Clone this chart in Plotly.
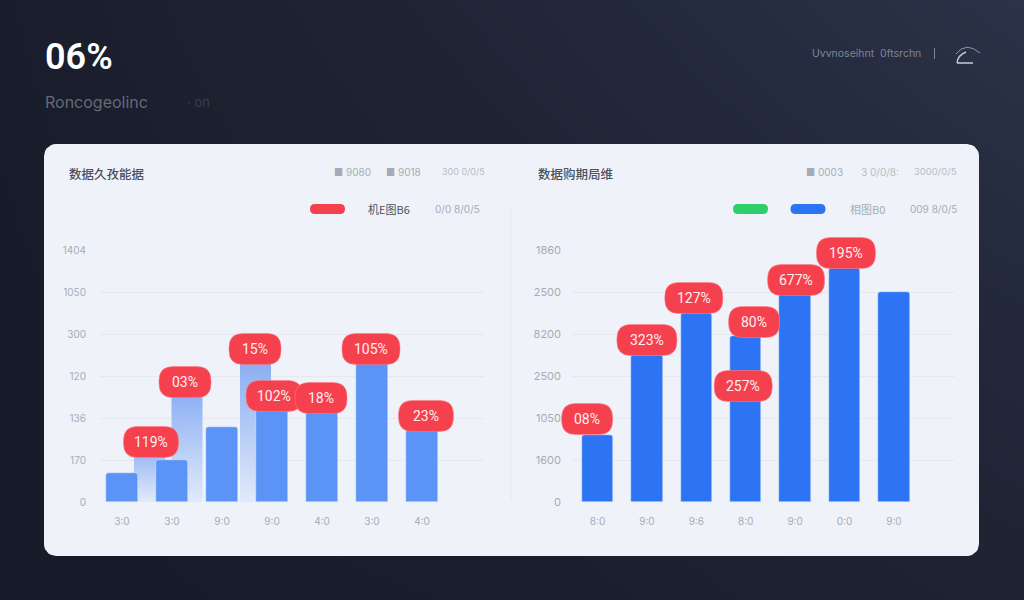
import numpy as np
import plotly.graph_objects as go

# ---------- data ----------
left_pos = [0, 1, 2, 3, 4, 5, 6]
left_values = [138, 200, 357, 438, 428, 667, 343]
left_xlabels = ["3:0", "3:0", "9:0", "9:0", "4:0", "3:0", "4:0"]
left_ticks = [0, 200, 400, 600, 800, 1000, 1200]
left_ticklabels = ["0", "170", "136", "120", "300", "1050", "1404"]
left_pale_pos = [0.55, 1.3, 2.67]
left_pale_values = [300, 557, 700]
left_pill_text = ["119%", "03%", "15%", "102%", "18%", "105%", "23%"]
left_pill_x = [0.58, 1.26, 2.66, 3.04, 3.98, 4.98, 6.08]
left_pill_y = [286, 571, 729, 505, 495, 729, 410]
left_pill_w = [55, 52, 52, 56, 52, 58, 55]

right_pos = [0, 1, 2, 3, 4, 5, 6]
right_values = [798, 1750, 2250, 1976, 2476, 2786, 2500]
right_xlabels = ["8:0", "9:0", "9:6", "8:0", "9:0", "0:0", "9:0"]
right_ticks = [0, 500, 1000, 1500, 2000, 2500, 3000]
right_ticklabels = ["0", "1600", "1050", "2500", "8200", "2500", "1860"]
right_pill_text = ["08%", "323%", "127%", "80%", "257%", "677%", "195%"]
right_pill_x = [-0.21, 1.0, 1.95, 3.17, 2.95, 4.02, 5.03]
right_pill_y = [988, 1929, 2429, 2143, 1381, 2643, 2964]
right_pill_w = [51, 60, 58, 51, 58, 57, 59]

bg_z = [[0.10, 0.50, 1.00], [0.05, 0.30, 0.62], [0.04, 0.12, 0.36]]

INK, GREY = "#4b505c", "#a6abb5"
RED, BLUE_L, BLUE_R = "#f5404e", "#5b94f6", "#2c74f4"
FONT = "Inter"
CJK = "Noto Sans CJK SC"
W, H = 1024, 600


def dx(a, b):
    return [a / W, b / W]


def dy(top, bottom):
    return [1 - bottom / H, 1 - top / H]


def rng(px0, px1, origin_px, px_per_unit):
    return [(px0 - origin_px) / px_per_unit, (px1 - origin_px) / px_per_unit]


fig = go.Figure()

# background + card in pixel-like axis
fig.add_trace(go.Heatmap(x=[0, 512, 1024], y=[0, 300, 600], z=bg_z, zmin=0, zmax=1, zsmooth="best",
                         colorscale=[[0, "#171a28"], [1, "#2b3348"]], showscale=False, hoverinfo="skip"))
cx0, cx1, cy0, cy1, r = 44, 979, 144, 556, 12
t = np.linspace(0, np.pi / 2, 8)
card_x = np.concatenate([cx1 - r + r * np.sin(t), cx1 - r + r * np.cos(t), cx0 + r - r * np.sin(t), cx0 + r - r * np.cos(t)])
card_y = np.concatenate([cy0 + r - r * np.cos(t), cy1 - r + r * np.sin(t), cy1 - r + r * np.cos(t), cy0 + r - r * np.sin(t)])
fig.add_trace(go.Scatter(x=card_x, y=card_y, mode="lines", line=dict(width=0), fill="toself",
                         fillcolor="#eff3f9", hoverinfo="skip", showlegend=False))

# left pale gradient bars
pale_w = 0.31
for p, v in zip(left_pale_pos, left_pale_values):
    fig.add_trace(go.Scatter(x=[p - pale_w, p - pale_w, p + pale_w, p + pale_w, p - pale_w], y=[0, v, v, 0, 0],
                             xaxis="x2", yaxis="y2", mode="lines", line=dict(width=0), fill="toself",
                             fillgradient=dict(type="vertical", colorscale=[[0, "#e2eafa"], [1, "#86abf3"]]),
                             hoverinfo="skip", showlegend=False))
# make grid subplot of right exist
fig.add_trace(go.Scatter(x=[0], y=[0], xaxis="x4", yaxis="y4", mode="markers", marker=dict(opacity=0),
                         hoverinfo="skip", showlegend=False))

fig.add_trace(go.Bar(x=left_pos, y=left_values, width=0.64, marker=dict(color=BLUE_L, cornerradius=3),
                     xaxis="x3", yaxis="y3", hoverinfo="skip", showlegend=False))
fig.add_trace(go.Bar(x=right_pos, y=right_values, width=0.634, marker=dict(color=BLUE_R, cornerradius=3),
                     xaxis="x5", yaxis="y5", hoverinfo="skip", showlegend=False))

L_ORG, L_STEP, R_ORG, R_STEP = 122, 50, 597.5, 49.4
GRID_T, GRID_B = 250, 502
L_S, R_S = (GRID_B - GRID_T) / 1200, (GRID_B - GRID_T) / 3000
MT, MB = 225, 512
ML0, ML1, MR0, MR1 = 60, 505, 540, 965

base = dict(showline=False, zeroline=False, showgrid=False, showticklabels=False, ticks="", fixedrange=True)
tickfont_l = dict(family=FONT, size=10, color=GREY)
tickfont_r = dict(family=FONT, size=11, color=GREY)
grid = dict(showgrid=True, gridcolor="#e5e8ef", gridwidth=1, showticklabels=True, tickmode="array")

fig.update_layout(
    width=W, height=H, margin=dict(l=0, r=0, t=0, b=0, autoexpand=False), paper_bgcolor="#1b1e2c",
    plot_bgcolor="rgba(0,0,0,0)",
    showlegend=False, bargap=0,
    xaxis=dict(base, domain=[0, 1], range=[0, W]),
    yaxis=dict(base, domain=[0, 1], range=[H, 0]),
    xaxis2=dict(base, domain=dx(100, 484), anchor="y2", range=rng(100, 484, L_ORG, L_STEP),
                showticklabels=True, tickmode="array", tickvals=left_pos, ticktext=left_xlabels,
                tickfont=tickfont_l, ticklabelstandoff=12),
    yaxis2=dict(base, **grid, domain=dy(GRID_T, GRID_B), anchor="x2", range=[0, 1200],
                tickvals=left_ticks, ticktext=left_ticklabels, tickfont=tickfont_l, ticklabelstandoff=13),
    xaxis3=dict(base, domain=dx(ML0, ML1), anchor="y3", range=rng(ML0, ML1, L_ORG, L_STEP)),
    yaxis3=dict(base, domain=dy(MT, MB), anchor="x3", range=[(GRID_B - MB) / L_S, (GRID_B - MT) / L_S]),
    xaxis4=dict(base, domain=dx(572, 955), anchor="y4", range=rng(572, 955, R_ORG, R_STEP),
                showticklabels=True, tickmode="array", tickvals=right_pos, ticktext=right_xlabels,
                tickfont=tickfont_l, ticklabelstandoff=12),
    yaxis4=dict(base, **grid, domain=dy(GRID_T, GRID_B), anchor="x4", range=[0, 3000],
                tickvals=right_ticks, ticktext=right_ticklabels, tickfont=tickfont_r, ticklabelstandoff=10),
    xaxis5=dict(base, domain=dx(MR0, MR1), anchor="y5", range=rng(MR0, MR1, R_ORG, R_STEP)),
    yaxis5=dict(base, domain=dy(MT, MB), anchor="x5", range=[(GRID_B - MB) / R_S, (GRID_B - MT) / R_S]),
)


def pill_path(w, h, rad):
    a, b = w / 2, h / 2
    return (f"M {-a + rad} {-b} L {a - rad} {-b} Q {a} {-b} {a} {-b + rad} L {a} {b - rad} Q {a} {b} {a - rad} {b} "
            f"L {-a + rad} {b} Q {-a} {b} {-a} {b - rad} L {-a} {-b + rad} Q {-a} {-b} {-a + rad} {-b} Z")


shapes, ann = [], []


def pill(xa, ya, xref, yref, w, h, rad, color, line=None):
    shapes.append(dict(type="path", xref=xref, yref=yref, xsizemode="pixel", ysizemode="pixel", xanchor=xa, yanchor=ya,
                       path=pill_path(w, h, rad), fillcolor=color, layer="above",
                       line=dict(width=1 if line else 0, color=line or color)))


def label(x, y, text, size, color, anchor="left", family=FONT, weight=None):
    ann.append(dict(xref="paper", yref="paper", x=x / W, y=1 - y / H, text=text, showarrow=False, xanchor=anchor,
                    yanchor="middle", borderpad=0,
                    font=dict(family=family, size=size, color=color, weight=weight)))


for xs, ys, ws, txt, xr, yr in [(left_pill_x, left_pill_y, left_pill_w, left_pill_text, "x3", "y3"),
                                (right_pill_x, right_pill_y, right_pill_w, right_pill_text, "x5", "y5")]:
    for x, y, w, s in zip(xs, ys, ws, txt):
        pill(x, y, xr, yr, w, 31, 14, RED, "rgba(255,125,135,0.55)")
        ann.append(dict(xref=xr, yref=yr, x=x, y=y, text=s, showarrow=False,
                        font=dict(family="Roboto", size=14, color="#fdf0f1")))

# legends
pill(327.5 / W, 1 - 209 / H, "paper", "paper", 35, 10, 5, "#f5404e")
pill(750.5 / W, 1 - 209 / H, "paper", "paper", 35, 10, 5, "#2fce6a")
pill(808 / W, 1 - 209 / H, "paper", "paper", 35, 10, 5, "#2c74f4")

# divider
shapes.append(dict(type="line", xref="paper", yref="paper", x0=511 / W, x1=511 / W, y0=1 - 205 / H, y1=1 - 500 / H,
                   line=dict(color="#e6e9f0", width=1), layer="above"))

# separator + gauge icon in the header
shapes.append(dict(type="line", xref="paper", yref="paper", x0=934.5 / W, x1=934.5 / W, y0=1 - 48 / H, y1=1 - 59 / H,
                   line=dict(color="#7c8596", width=1), layer="above"))


def pp(x, y):
    return f"{x / W:.5f} {1 - y / H:.5f}"


shapes.append(dict(type="path", xref="paper", yref="paper", layer="above", line=dict(color="#8f97a6", width=1),
                   path=f"M {pp(956, 54)} Q {pp(966, 41)} {pp(980, 53)}"))
shapes.append(dict(type="path", xref="paper", yref="paper", layer="above", line=dict(color="#c5cad3", width=1.4),
                   path=f"M {pp(957, 63)} Q {pp(958, 55)} {pp(966, 52)} M {pp(957, 63)} L {pp(973, 63)}"))

label(44, 57, "06%", 36, "#ffffff", family="Roboto", weight=600)
label(44, 102, "Roncogeolinc", 16, "#646a7a")
label(186, 102, "· on", 13, "#3a3f50")
label(811, 53, "Uvvnoseihnt  0ftsrchn", 10.5, "#7d8596")

label(68, 173, "数据久孜能据", 12.5, INK, family=CJK, weight=500)
label(333, 172, "■ 9080", 10, GREY)
label(385, 172, "■ 9018", 10, GREY)
label(441, 172, "300 0/0/5", 9, "#b7bbc4")
label(367, 209, "机E图B6", 11, INK, family=CJK)
label(434, 209, "0/0 8/0/5", 10, GREY)

label(537, 173, "数据购期局维", 12.5, INK, family=CJK, weight=500)
label(805, 172, "■ 0003", 10, GREY)
label(860, 172, "3 0/0/8:", 10, "#b7bbc4")
label(913, 172, "3000/0/5", 9.5, "#b7bbc4")
label(849, 209, "相图B0", 11, GREY, family=CJK)
label(909, 209, "009 8/0/5", 10, GREY)

fig.update_layout(shapes=shapes, annotations=ann)
fig.write_html("out.html", config=dict(displayModeBar=False),
               post_script="document.body.style.margin='0';document.documentElement.style.overflow='hidden';")
